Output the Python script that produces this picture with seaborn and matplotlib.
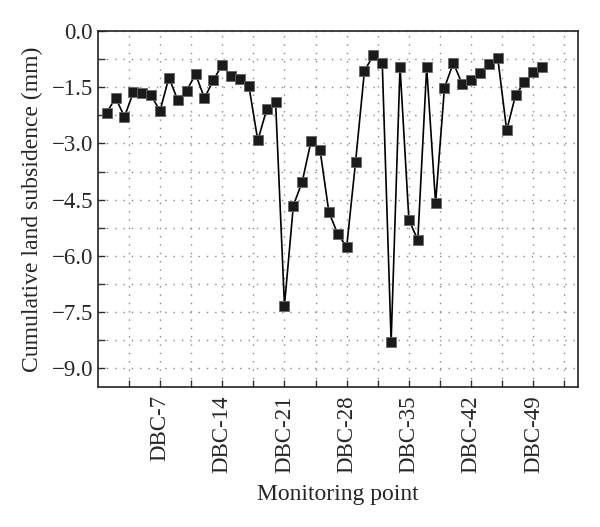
import matplotlib
matplotlib.use("Agg")
import matplotlib.pyplot as plt
from matplotlib.ticker import MultipleLocator, FixedLocator
import seaborn as sns
import pandas as pd

# Data
point_index = list(range(1, 51))
subsidence = [-2.18, -1.78, -2.29, -1.63, -1.65, -1.72, -2.13, -1.24, -1.85, -1.59,
              -1.15, -1.79, -1.31, -0.90, -1.21, -1.29, -1.47, -2.92, -2.09, -1.89,
              -7.33, -4.66, -4.02, -2.93, -3.17, -4.84, -5.42, -5.76, -3.49, -1.06,
              -0.65, -0.84, -8.29, -0.95, -5.04, -5.58, -0.97, -4.59, -1.51, -0.85,
              -1.42, -1.30, -1.11, -0.89, -0.73, -2.65, -1.71, -1.37, -1.08, -0.95]
xtick_positions = [7, 14, 21, 28, 35, 42, 49]
xtick_labels = ["DBC-7", "DBC-14", "DBC-21", "DBC-28", "DBC-35", "DBC-42", "DBC-49"]
ytick_values = [0.0, -1.5, -3.0, -4.5, -6.0, -7.5, -9.0]

df = pd.DataFrame({"point": point_index, "subsidence": subsidence})

sns.set_style("ticks")
plt.rcParams["font.family"] = ["Liberation Serif", "DejaVu Serif"]
plt.rcParams["axes.unicode_minus"] = True

fig = plt.figure(figsize=(6.0, 5.27), dpi=100)
ax = fig.add_axes([0.163, 0.266, 0.8, 0.675])

sns.lineplot(data=df, x="point", y="subsidence", ax=ax, color="black",
             linewidth=1.2, marker="s", markersize=7.5, markerfacecolor="#1a1a1a",
             markeredgecolor="#666666", markeredgewidth=0.6)

ax.set_xlim(0, 54)
ax.set_ylim(-9.5, 0)
ax.xaxis.set_major_locator(FixedLocator(xtick_positions))
ax.set_xticklabels(xtick_labels, rotation=90, fontsize=16.5)
ax.xaxis.set_minor_locator(FixedLocator([3.5 + 7 * k for k in range(8)]))
ax.set_yticks(ytick_values)
ax.set_yticklabels([f"{v:.1f}".replace("-", "\u2212") for v in ytick_values], fontsize=16.5)
ax.yaxis.set_minor_locator(MultipleLocator(0.75))

ax.tick_params(which="both", direction="in", length=5, width=1, color="#333333",
               top=False, right=False)
ax.tick_params(axis="x", which="major", pad=6)
ax.grid(which="both", color="#888888", linestyle=(0, (1, 5)), linewidth=1.0)

for s in ax.spines.values():
    s.set_visible(True)
    s.set_linewidth(1.2)
    s.set_color("#222222")

ax.set_xlabel("Monitoring point", fontsize=17, labelpad=8)
ax.set_ylabel("Cumulative land subsidence (mm)", fontsize=17, labelpad=6)

fig.savefig("out.png", dpi=100)
